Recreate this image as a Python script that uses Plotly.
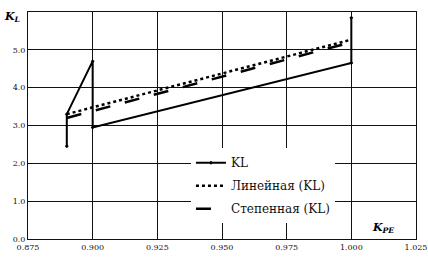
import plotly.graph_objects as go

kpe = [0.89, 0.89, 0.90, 0.90, 1.00, 1.00]
kl = [2.45, 3.3, 4.7, 2.95, 4.65, 5.85]
lin_x = [0.89, 1.00]
lin_y = [3.3, 5.27]
pow_x = [0.89, 1.00]
pow_y = [3.2, 5.2]
x_ticks = [0.875, 0.900, 0.925, 0.950, 0.975, 1.000, 1.025]
x_labels = ["0.875", "0.900", "0.925", "0.950", "0.975", "1.000", "1.025"]
y_ticks = [0, 1, 2, 3, 4, 5, 6]
y_labels = ["0.0", "1.0", "2.0", "3.0", "4.0", "5.0", ""]

serif = "DejaVu Serif"

fig = go.Figure()
fig.add_trace(go.Scatter(x=kpe, y=kl, mode="lines+markers", name="KL",
                         line=dict(color="black", width=2),
                         marker=dict(symbol="diamond", size=3, color="black"),
                         legendgroup="a"))
fig.add_trace(go.Scatter(x=lin_x, y=lin_y, mode="lines", name="Линейная (KL)",
                         line=dict(color="black", width=2.5, dash="dot"),
                         legendgroup="b"))
fig.add_trace(go.Scatter(x=pow_x, y=pow_y, mode="lines", name="Степенная (KL)",
                         line=dict(color="black", width=2.5, dash="longdash"),
                         legendgroup="c"))

fig.update_layout(
    width=428, height=259,
    margin=dict(l=28, r=12, t=12, b=20, pad=0),
    paper_bgcolor="white", plot_bgcolor="white",
    font=dict(family=serif, color="black", size=12),
    legend=dict(x=0.42, y=0.40, xanchor="left", yanchor="top",
                bgcolor="white", borderwidth=0, tracegroupgap=4,
                font=dict(family=serif, size=12, color="#111"), itemwidth=30),
    xaxis=dict(range=[0.875, 1.025], tickvals=x_ticks, ticktext=x_labels,
               showgrid=True, gridcolor="#111", gridwidth=1, automargin=False,
               zeroline=False, showline=True, linecolor="#111", mirror=True,
               tickfont=dict(size=8, family=serif, color="#111"), ticks=""),
    yaxis=dict(range=[0, 6], tickvals=y_ticks, ticktext=y_labels,
               showgrid=True, gridcolor="#111", gridwidth=1, automargin=False,
               zeroline=False, showline=True, linecolor="#111", mirror=True,
               tickfont=dict(size=8, family=serif, color="#111"), ticks=""),
    annotations=[
        dict(text="<b><i>K</i></b><sub><b><i>L</i></b></sub>", xref="paper", yref="paper",
             x=-0.04, y=0.98, xanchor="center", yanchor="middle", showarrow=False,
             font=dict(family=serif, size=11)),
        dict(text="<b><i>K</i></b><sub><b><i>PE</i></b></sub>", xref="paper", yref="paper",
             x=0.915, y=0.05, xanchor="center", yanchor="middle", showarrow=False,
             font=dict(family=serif, size=11)),
    ],
)

fig.write_html("out.html", config={"displayModeBar": False},
               post_script="document.body.style.margin='0';")
